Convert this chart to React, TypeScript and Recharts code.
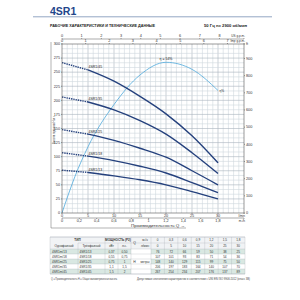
import React from 'react';
import { ComposedChart, Line, XAxis, YAxis, ReferenceLine, LabelList } from 'recharts';

// ---------- data ----------
const qLmin = [0, 5, 10, 15, 20, 25, 30];
const qM3hLabels = ['0', '0,3', '0,6', '0,9', '1,2', '1,5', '1,8'];
const modelsMono = ['4SR1m/13', '4SR1m/18', '4SR1m/25', '4SR1m/35', '4SR1m/45'];
const modelsTri = ['4SR1/13', '4SR1/18', '4SR1/25', '4SR1/35', '4SR1/45'];
const powerKw = ['0,37', '0,55', '0,75', '1,1', '1,5'];
const powerHp = ['0,50', '0,75', '1', '1,5', '2'];
const head13 = [76, 72, 66, 59, 50, 38, 25];
const head18 = [107, 101, 93, 83, 71, 54, 36];
const head25 = [148, 140, 129, 115, 99, 75, 50];
const head35 = [206, 197, 183, 164, 140, 107, 70];
const head45 = [267, 254, 234, 207, 176, 137, 89];
const effQ = [0, 2.5, 5, 10, 15, 20, 25, 30];
const effPct = [0, 13, 23.5, 38.5, 49, 53.5, 51, 43.5];

const lminTicks = [0, 5, 10, 15, 20, 25, 30, 35];
const m3hTicks = [0, 0.2, 0.4, 0.6, 0.8, 1, 1.2, 1.4, 1.6, 1.8, 2.1];
const usTicks = [0, 1, 2, 3, 4, 5, 6, 7, 8, 35 / 3.78541];
const impTicks = [0, 1, 2, 3, 4, 5, 6, 7, 35 / 4.54609];
const mTicks = [0, 25, 50, 75, 100, 125, 150, 175, 200, 225, 250, 275, 300];
const ftTicks = [0, 100, 200, 300, 400, 500, 600, 700, 800, 900, 300 / 0.3048];
const gridXMinor = Array.from({ length: 34 }, (_, i) => i + 1);
const gridYMinor = Array.from({ length: 35 }, (_, i) => ((i + 1) * 25) / 3);

const heads = [head13, head18, head25, head35, head45];
const tableRows = qLmin.map((q, i) => ({ q, h13: head13[i], h18: head18[i], h25: head25[i], h35: head35[i], h45: head45[i] }));
const series = heads.map((h, k) => ({
  name: modelsTri[k],
  dashed: qLmin.slice(0, 2).map((q, i) => ({ q, h: h[i] })),
  solid: qLmin.slice(1).map((q, i) => ({ q, h: h[i + 1] })),
}));
const effData = effQ.map((q, i) => ({ q, e: effPct[i] }));

const FONT = '"Liberation Sans", Arial, sans-serif';
const FS = 3.8;
const TXT = '#333';

const fmtNum = (v: number) => String(Math.round(v * 10) / 10).replace('.', ',');

const makeTick = (kind: 'top' | 'bottom' | 'left' | 'right', lastVal: number, unit: string) => (p: any) => {
  const v = p.payload.value;
  const isLast = Math.abs(v - lastVal) < 1e-6;
  let anchor: any = kind === 'left' ? 'end' : kind === 'right' ? 'start' : 'middle';
  let x = p.x;
  if (isLast && (kind === 'top' || kind === 'bottom')) {
    anchor = 'end';
    x = p.x + 1;
  }
  const dy = kind === 'top' ? -0.3 : kind === 'bottom' ? 3 : 1.3;
  return (
    <text x={x} y={p.y} dy={dy} textAnchor={anchor} fontSize={isLast && unit.length > 3 ? 3.1 : FS} fill={TXT} fontFamily={FONT}>
      {isLast ? unit : fmtNum(v)}
    </text>
  );
};

const curveLabel = (name: string) => (p: any) =>
  p.index === 1 ? (
    <text x={p.x + 0.5} y={p.y - 1.6} fontSize={3.5} fill="#222" fontFamily={FONT}>
      {name}
    </text>
  ) : null;

const effLabel = (p: any) => {
  if (p.index === 5)
    return (
      <text x={p.x} y={p.y - 2.2} fontSize={3.5} fill="#222" textAnchor="middle" fontFamily={FONT}>
        η = 54%
      </text>
    );
  if (p.index === 7)
    return (
      <text x={p.x + 1.5} y={p.y + 1.2} fontSize={3.2} fill="#222" fontFamily={FONT}>
        η%
      </text>
    );
  return null;
};

const dataColW = (245 - 151) / 7;
const rowY = [237, 243, 249, 254, 259, 264, 269, 274];

export default function App() {
  const lines: any[] = [];
  series.forEach((s, k) => {
    lines.push(
      <Line key={'d' + k} data={s.dashed} dataKey="h" type="linear" stroke="#25417d" strokeWidth={1.4}
        strokeDasharray="1.4 0.9" dot={false} activeDot={false} isAnimationActive={false}>
        <LabelList dataKey="h" content={curveLabel(s.name)} />
      </Line>
    );
    lines.push(
      <Line key={'s' + k} data={s.solid} dataKey="h" type="monotone" stroke="#25417d" strokeWidth={1.4}
        dot={false} activeDot={false} isAnimationActive={false} />
    );
  });

  const dataCx = (i: number) => 151 + dataColW * (i + 0.5);
  const rowC = (r: number) => (rowY[r] + rowY[r + 1]) / 2 + 1.1;

  return (
    <div style={{ position: 'absolute', left: 0, top: 0, width: 300, height: 300, background: '#fff', fontFamily: FONT }}>
      <div style={{ position: 'absolute', left: 0, top: 0 }}>
        <ComposedChart width={300} height={226} data={tableRows} margin={{ top: 33, left: 52, right: 44, bottom: 2 }}>
          <XAxis xAxisId={0} dataKey="q" type="number" domain={[0, 35]} ticks={lminTicks} allowDataOverflow
            orientation="bottom" height={5} tickSize={1} tickMargin={0.3} interval={0}
            stroke="#555" strokeWidth={0.6} tick={makeTick('bottom', 35, 'l/min')} />
          <XAxis xAxisId="m3" dataKey="q" type="number" domain={[0, 2.1]} ticks={m3hTicks} allowDataOverflow
            orientation="bottom" height={6} tickSize={1} tickMargin={0.3} interval={0}
            stroke="#555" strokeWidth={0.5} tick={makeTick('bottom', 2.1, 'm³/h')} />
          <XAxis xAxisId="imp" dataKey="q" type="number" domain={[0, 35 / 4.54609]} ticks={impTicks} allowDataOverflow
            orientation="top" height={5} tickSize={1} tickMargin={0.3} interval={0}
            stroke="#555" strokeWidth={0.6} tick={makeTick('top', 35 / 4.54609, 'Imp g.p.m.')} />
          <XAxis xAxisId="us" dataKey="q" type="number" domain={[0, 35 / 3.78541]} ticks={usTicks} allowDataOverflow
            orientation="top" height={6} tickSize={1} tickMargin={0.3} interval={0}
            stroke="#555" strokeWidth={0.5} tick={makeTick('top', 35 / 3.78541, 'US g.p.m.')} />
          <YAxis yAxisId={0} type="number" domain={[0, 300]} ticks={mTicks} allowDataOverflow
            orientation="left" width={10} tickSize={1} tickMargin={1} interval={0}
            stroke="#555" strokeWidth={0.6} tick={makeTick('left', -1, '')} />
          <YAxis yAxisId="ft" type="number" domain={[0, 300 / 0.3048]} ticks={ftTicks} allowDataOverflow
            orientation="right" width={12} tickSize={1} tickMargin={1} interval={0}
            stroke="#555" strokeWidth={0.6} tick={makeTick('right', 300 / 0.3048, 'ft')} />
          <YAxis yAxisId="eff" type="number" domain={[0, 60]} allowDataOverflow hide />
          {gridXMinor.map((v) => (
            <ReferenceLine key={'gx' + v} x={v} stroke={v % 5 === 0 ? '#aab3bd' : '#cfd6dd'} strokeWidth={0.6} />
          ))}
          {gridYMinor.map((v, i) => (
            <ReferenceLine key={'gy' + i} y={v} stroke={(i + 1) % 3 === 0 ? '#aab3bd' : '#cfd6dd'} strokeWidth={0.6} />
          ))}
          <Line data={effData} dataKey="e" yAxisId="eff" type="monotone" stroke="#4fa9dc" strokeWidth={0.8}
            dot={false} activeDot={false} isAnimationActive={false}>
            <LabelList dataKey="e" content={effLabel} />
          </Line>
          {lines}
        </ComposedChart>
      </div>
      <svg style={{ position: 'absolute', left: 0, top: 0 }} width={300} height={300} fontFamily={FONT}>
        <text x={50} y={15} fontSize={10.5} fontWeight="bold" fill="#22458a">4SR1</text>
        <line x1={33} y1={16.8} x2={272} y2={16.8} stroke="#4a6a9a" strokeWidth={0.6} />
        <text x={50} y={26.5} fontSize={3.6} fontWeight="bold" fill="#222" textLength={105} lengthAdjust="spacingAndGlyphs">
          РАБОЧИЕ ХАРАКТЕРИСТИКИ И ТЕХНИЧЕСКИЕ ДАННЫЕ
        </text>
        <text x={204} y={26.5} fontSize={3.6} fontWeight="bold" fill="#222" textLength={43} lengthAdjust="spacingAndGlyphs">
          50 Гц    n= 2900 об/мин
        </text>
        <line x1={51} y1={42} x2={51} y2={228} stroke="#666" strokeWidth={0.5} />
        <line x1={51} y1={228} x2={186} y2={228} stroke="#666" strokeWidth={0.5} />
        <text transform="translate(55.2,144) rotate(-90)" fontSize={3.3} fill={TXT} textLength={28} lengthAdjust="spacingAndGlyphs">
          Высота подъема H м ↑
        </text>
        <text x={131} y={227} fontSize={3.6} fill={TXT} textLength={54} lengthAdjust="spacingAndGlyphs">
          Производительность Q →
        </text>
        <rect x={50} y={237} width={195} height={12} fill="#f1f3f5" />
        {[0, 2, 4].map((r) => (
          <rect key={'bg' + r} x={50} y={rowY[r + 2]} width={81} height={5} fill="#d9e8e2" />
        ))}
        {[0, 2, 4].map((r) => (
          <rect key={'bg2' + r} x={151} y={rowY[r + 2]} width={94} height={5} fill="#d9e8e2" />
        ))}
        {rowY.map((y, i) => (
          <line key={'h' + i} x1={i === 1 ? 78 : 50} y1={y} x2={245} y2={y}
            stroke="#a5adb5" strokeWidth={i === 0 || i === 7 ? 0.6 : 0.3} />
        ))}
        {[50, 78, 105, 118, 131, 151].map((x, i) => (
          <line key={'v' + i} x1={x} y1={i === 1 || i === 3 ? 243 : 237} x2={x} y2={274} stroke="#a5adb5" strokeWidth={0.3} />
        ))}
        {Array.from({ length: 7 }, (_, i) => (
          <line key={'vd' + i} x1={151 + dataColW * (i + 1)} y1={237} x2={151 + dataColW * (i + 1)} y2={274}
            stroke="#a5adb5" strokeWidth={0.3} />
        ))}
        <text x={77.5} y={241.2} fontSize={3.1} fontWeight="bold" fill={TXT} textAnchor="middle">ТИП</text>
        <text x={118} y={241.2} fontSize={3.1} fontWeight="bold" fill={TXT} textAnchor="middle">МОЩНОСТЬ (P2)</text>
        <text x={64} y={247.2} fontSize={3.1} fill={TXT} textAnchor="middle">Однофазный</text>
        <text x={91.5} y={247.2} fontSize={3.1} fill={TXT} textAnchor="middle">Трёхфазный</text>
        <text x={111.5} y={247.2} fontSize={3.1} fill={TXT} textAnchor="middle">кВт</text>
        <text x={124.5} y={247.2} fontSize={3.1} fill={TXT} textAnchor="middle">л.с.</text>
        <text x={134.5} y={244.2} fontSize={3.4} fill={TXT} textAnchor="middle">Q</text>
        <text x={145} y={241.2} fontSize={3.1} fill={TXT} textAnchor="middle">м³/ч</text>
        <text x={145} y={247.2} fontSize={3.1} fill={TXT} textAnchor="middle">л/мин</text>
        <text x={134.5} y={262.7} fontSize={3.4} fill={TXT} textAnchor="middle">H</text>
        <text x={145} y={262.7} fontSize={3.1} fill={TXT} textAnchor="middle">метры</text>
        {qM3hLabels.map((l, i) => (
          <text key={'qm' + i} x={dataCx(i)} y={241.2} fontSize={3.1} fill={TXT} textAnchor="middle">{l}</text>
        ))}
        {qLmin.map((l, i) => (
          <text key={'ql' + i} x={dataCx(i)} y={247.2} fontSize={3.1} fill={TXT} textAnchor="middle">{l}</text>
        ))}
        {modelsMono.map((m, r) => (
          <g key={'row' + r}>
            <text x={52} y={rowC(r + 2)} fontSize={3.1} fill={TXT}>{m}</text>
            <text x={79.5} y={rowC(r + 2)} fontSize={3.1} fill={TXT}>{modelsTri[r]}</text>
            <text x={111.5} y={rowC(r + 2)} fontSize={3.1} fill={TXT} textAnchor="middle">{powerKw[r]}</text>
            <text x={124.5} y={rowC(r + 2)} fontSize={3.1} fill={TXT} textAnchor="middle">{powerHp[r]}</text>
            {heads[r].map((h, i) => (
              <text key={i} x={dataCx(i)} y={rowC(r + 2)} fontSize={3.1} fill={TXT} textAnchor="middle">{h}</text>
            ))}
          </g>
        ))}
        <text x={51} y={280} fontSize={2.8} fill="#444" textLength={66} lengthAdjust="spacingAndGlyphs">
          Q = Производительность   H = Общая манометрическая высота
        </text>
        <text x={137} y={280} fontSize={2.8} fill="#444" textLength={113} lengthAdjust="spacingAndGlyphs">
          Допустимые отклонения характеристик в соответствии с UNI EN ISO 9906:2012 (класс 3B)
        </text>
      </svg>
    </div>
  );
}
